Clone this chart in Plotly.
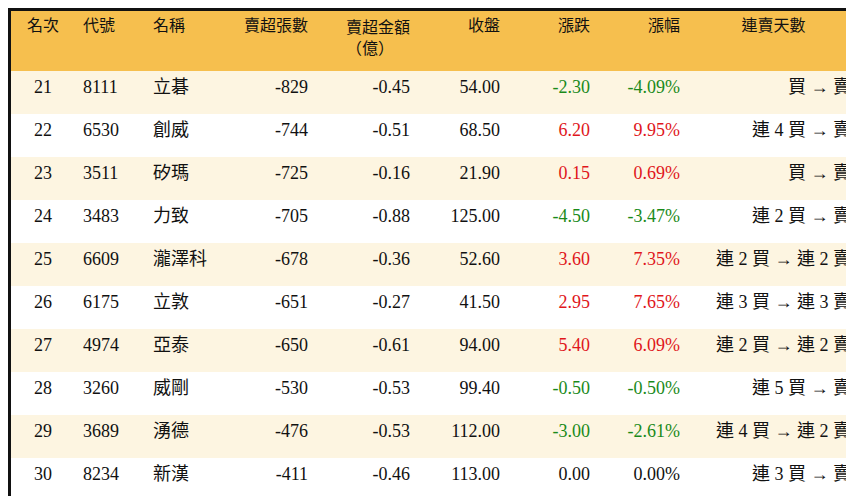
import plotly.graph_objects as go

rank = [21, 22, 23, 24, 25, 26, 27, 28, 29, 30]
code = ["8111", "6530", "3511", "3483", "6609", "6175", "4974", "3260", "3689", "8234"]
name = ["立碁", "創威", "矽瑪", "力致", "瀧澤科", "立敦", "亞泰", "威剛", "湧德", "新漢"]
net_sell = [-829, -744, -725, -705, -678, -651, -650, -530, -476, -411]
amount = [-0.45, -0.51, -0.16, -0.88, -0.36, -0.27, -0.61, -0.53, -0.53, -0.46]
close = [54.00, 68.50, 21.90, 125.00, 52.60, 41.50, 94.00, 99.40, 112.00, 113.00]
change = [-2.30, 6.20, 0.15, -4.50, 3.60, 2.95, 5.40, -0.50, -3.00, 0.00]
pct = [-4.09, 9.95, 0.69, -3.47, 7.35, 7.65, 6.09, -0.50, -2.61, 0.00]
streak = ["買 → 賣", "連 4 買 → 賣", "買 → 賣", "連 2 買 → 賣", "連 2 買 → 連 2 賣",
          "連 3 買 → 連 3 賣", "連 2 買 → 連 2 賣", "連 5 買 → 賣", "連 4 買 → 連 2 賣", "連 3 買 → 賣"]
headers = ["名次", "代號", "名稱", "賣超張數", "賣超金額<br>（億）", "收盤", "漲跌", "漲幅", "連賣天數"]

def col(v):
    return "#E0161B" if v > 0 else ("#1A8A1A" if v < 0 else "#111111")

black = ["#111111"] * len(rank)
chg_col = [col(v) for v in change]
fills = ["#FDF5E1" if i % 2 == 0 else "#FFFFFF" for i in range(len(rank))]
font = "Liberation Serif, Noto Sans CJK TC, serif"

fig = go.Figure(go.Table(
    domain=dict(x=[0, 1], y=[0, 1]),
    columnwidth=[64, 70, 73, 98, 102, 90, 90, 90, 171],
    header=dict(values=headers, height=60, fill_color="#F6BF4E",
                line=dict(width=0, color="#F6BF4E"),
                align=["center", "left", "left", "right", "right", "right", "right", "right", "center"],
                font=dict(family=font, size=16, color="#111111")),
    cells=dict(values=[rank, code, name, net_sell,
                       [f"{v:.2f}" for v in amount], [f"{v:.2f}" for v in close],
                       [f"{v:.2f}" for v in change], [f"{v:.2f}%" for v in pct], streak],
               height=43, fill_color=[fills] * 9,
               line=dict(width=0, color="#FFFFFF"),
               align=["center", "left", "left", "right", "right", "right", "right", "right", "right"],
               font=dict(family=font, size=18,
                         color=[black, black, black, black, black, black, chg_col, chg_col, black])),
))
fig.update_layout(width=854, height=496, margin=dict(l=3, r=3, t=3, b=3),
                  paper_bgcolor="#111111")
fig.write_html("out.html")
